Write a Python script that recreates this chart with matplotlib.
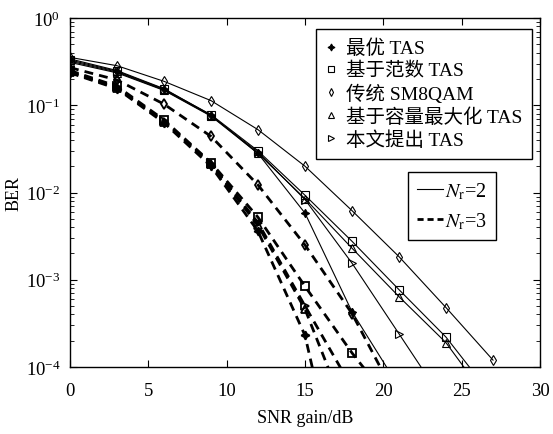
import numpy as np
import matplotlib
matplotlib.use("Agg")
import matplotlib.pyplot as plt
from matplotlib.lines import Line2D
from matplotlib.ticker import LogLocator, NullFormatter

plt.rcParams['font.family'] = ['Liberation Serif', 'Noto Sans CJK SC']
plt.rcParams['mathtext.fontset'] = 'stix'

snr = [0, 3, 6, 9, 12, 15, 18, 21, 24, 27]

labels = ['最优 TAS', '基于范数 TAS', '传统 SM8QAM', '基于容量最大化 TAS', '本文提出 TAS']
nr_labels = [r'$N_{\mathrm{r}}$=2', r'$N_{\mathrm{r}}$=3']

# Nr = 2 (solid)
opt_nr2 = [0.34, 0.25, 0.155, 0.077, 0.028, 0.0058, 4.3e-4, 5.9e-5, 1e-5, 1e-6]
norm_nr2 = [0.33, 0.245, 0.153, 0.078, 0.030, 0.0093, 0.00276, 7.7e-4, 2.2e-4, 4.5e-5]
sm8_nr2 = [0.354, 0.284, 0.188, 0.113, 0.0525, 0.020, 0.0062, 0.00184, 4.8e-4, 1.2e-4]
cap_nr2 = [0.31, 0.235, 0.148, 0.075, 0.028, 0.0085, 0.0023, 6.4e-4, 1.9e-4, 3.5e-5]
prop_nr2 = [0.32, 0.24, 0.150, 0.076, 0.029, 0.0083, 0.00155, 2.4e-4, 3.7e-5, 4e-6]

# Nr = 3 (dashed)
opt_nr3 = [0.235, 0.155, 0.063, 0.020, 0.0036, 2.3e-4, 1e-6, 1e-8, 1e-9, 1e-10]
norm_nr3 = [0.25, 0.165, 0.068, 0.022, 0.0052, 8.4e-4, 1.45e-4, 3e-5, 5e-6, 1e-6]
sm8_nr3 = [0.27, 0.195, 0.103, 0.044, 0.0122, 0.0025, 4.1e-4, 3.9e-5, 4e-6, 4e-7]
cap_nr3 = [0.24, 0.158, 0.065, 0.021, 0.0042, 4.6e-4, 2e-5, 1e-6, 1e-7, 1e-8]
prop_nr3 = [0.245, 0.16, 0.066, 0.0215, 0.0045, 5.0e-4, 5.8e-5, 4e-6, 4e-7, 4e-8]

nr2 = [opt_nr2, norm_nr2, sm8_nr2, cap_nr2, prop_nr2]
nr3 = [opt_nr3, norm_nr3, sm8_nr3, cap_nr3, prop_nr3]
markers = [(4, 1, 0), 's', 'd', '^', '>']
msizes = [6, 5.5, 5, 5.5, 5.5]

fig = plt.figure(figsize=(5.53, 4.35), dpi=100)
ax = fig.add_axes([0.1266, 0.154, 0.8499, 0.8023])

for ys, m, ms in zip(nr2, markers, msizes):
    filled = isinstance(m, tuple)
    ax.semilogy(snr, ys, color='black', lw=0.8, marker=m, ms=ms,
                mfc='black' if filled else 'none', mec='black', mew=0.8)
for ys, m, ms in zip(nr3, markers, msizes):
    filled = isinstance(m, tuple)
    ax.semilogy(snr, ys, color='black', lw=2.0, ls=(0, (3.2, 2.2)), marker=m, ms=ms,
                mfc='black' if filled else 'none', mec='black', mew=1.3)

ax.set_xlim(0, 30)
ax.set_ylim(1e-4, 1)
ax.set_xticks([0, 5, 10, 15, 20, 25, 30])
ax.yaxis.set_major_locator(LogLocator(base=10, numticks=10))
ax.yaxis.set_minor_locator(LogLocator(base=10, subs=np.arange(2, 10), numticks=10))
ax.yaxis.set_minor_formatter(NullFormatter())
ax.tick_params(which='both', direction='in', top=True, right=True, labelsize=13.5)
ax.tick_params(axis='x', pad=11)
ax.tick_params(axis='y', pad=7)
ax.tick_params(which='major', length=5, width=0.8)
ax.tick_params(which='minor', length=3, width=0.6)
for sp in ax.spines.values():
    sp.set_linewidth(1.0)

ax.set_xlabel('SNR gain/dB', fontsize=13, labelpad=7)
ax.set_ylabel('BER', fontsize=13, labelpad=2)

h1 = [Line2D([], [], ls='none', marker=m, ms=ms - 1, color='black',
             mfc='black' if isinstance(m, tuple) else 'none', mew=0.8)
      for m, ms in zip(markers, msizes)]
leg1 = ax.legend(h1, labels, loc='upper left', bbox_to_anchor=(0.523, 0.968),
                 fontsize=14, frameon=True, fancybox=False, edgecolor='black',
                 framealpha=1, handlelength=0.6, handletextpad=0.45,
                 labelspacing=0.22, borderpad=0.5, borderaxespad=0)
leg1.get_frame().set_linewidth(1.0)
ax.add_artist(leg1)

h2 = [Line2D([], [], color='black', lw=0.8),
      Line2D([], [], color='black', lw=2.0, ls=(0, (2.2, 1.4)))]
leg2 = ax.legend(h2, nr_labels, loc='upper left', bbox_to_anchor=(0.719, 0.56),
                 fontsize=14.5, frameon=True, fancybox=False, edgecolor='black',
                 framealpha=1, handlelength=1.3, handletextpad=0.1,
                 labelspacing=0.45, borderpad=0.45, borderaxespad=0)
leg2.get_frame().set_linewidth(1.0)

fig.savefig('out.png', dpi=100)
